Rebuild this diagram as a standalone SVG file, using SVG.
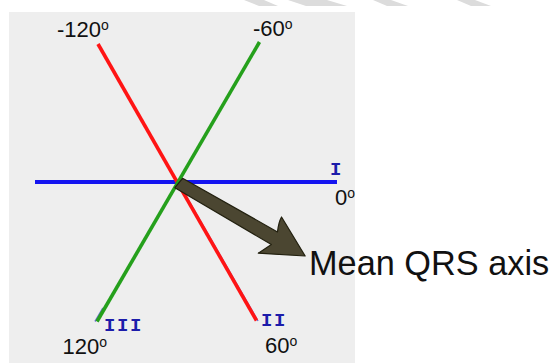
<svg xmlns="http://www.w3.org/2000/svg" width="550" height="363" viewBox="0 0 550 363">
  <style>
    .deg { font-family: "Liberation Sans", Arial, sans-serif; font-size: 22px; fill: #111111; }
    .sup { font-size: 14px; }
    .lead { font-family: "Liberation Mono", "Courier New", monospace; font-weight: bold; font-size: 19px; fill: #1c1caa; letter-spacing: 1.6px; }
    .title { font-family: "Liberation Sans", Arial, sans-serif; font-size: 34.3px; fill: #111111; }
    .axis { fill: none; stroke-linecap: butt; }
  </style>
  <rect x="0" y="0" width="550" height="363" fill="#ffffff"/>
  <g id="watermark" fill="#dcdcdc">
    <polygon points="244,0 264,0 278,6 259,6"/>
    <polygon points="288,0 327,0 347,6 306,6"/>
    <polygon points="373,0 391,0 408,6 387,6"/>
    <polygon points="457,0 475,0 491,6 471,6"/>
  </g>
  <rect id="panel" x="9" y="12" width="346" height="351" fill="#eeeeee"/>
  <g id="connectors">
    <line class="axis" x1="178.5" y1="183" x2="258" y2="321" stroke="#3a3ad0" stroke-width="1.5" opacity="0.7"/>
    <line class="axis" x1="103" y1="308" x2="95" y2="321.5" stroke="#3a3ad0" stroke-width="1.5" opacity="0.7"/>
    <line id="lead-I" class="axis" x1="35" y1="182" x2="337" y2="182" stroke="#1414f0" stroke-width="4"/>
    <line id="lead-II" class="axis" x1="98" y1="44" x2="256.5" y2="320.5" stroke="#ff1414" stroke-width="3.6"/>
    <line id="lead-III" class="axis" x1="259.5" y1="42" x2="97" y2="321.5" stroke="#25a01c" stroke-width="3.6"/>
    <g id="mean-axis-arrow" transform="translate(177,182) rotate(30)">
      <path d="M 3,-6 L 112,-7 Q 108,-16 108,-22 L 148,0 L 106,21 Q 110,13 113,7 L 1,6 Z" fill="#4b4631" stroke="#22200f" stroke-width="1.2" stroke-linejoin="round"/>
    </g>
  </g>
  <g id="label-minus120"><text class="deg" x="57" y="37">-120<tspan class="sup" dy="-7">o</tspan></text></g>
  <g id="label-minus60"><text class="deg" x="253" y="36">-60<tspan class="sup" dy="-7">o</tspan></text></g>
  <g id="label-0"><text class="deg" x="335" y="205">0<tspan class="sup" dy="-7">o</tspan></text></g>
  <g id="label-120"><text class="deg" x="62.5" y="354" font-size="20.5">120<tspan class="sup" dy="-7">o</tspan></text></g>
  <g id="label-60"><text class="deg" x="265" y="353">60<tspan class="sup" dy="-7">o</tspan></text></g>
  <g id="lead-label-I"><text class="lead" x="330" y="174.5">I</text></g>
  <g id="lead-label-II"><text class="lead" x="261" y="326">II</text></g>
  <g id="lead-label-III"><text class="lead" x="104" y="331">III</text></g>
  <g id="label-mean-qrs"><text class="title" x="309" y="275">Mean QRS axis</text></g>
</svg>
